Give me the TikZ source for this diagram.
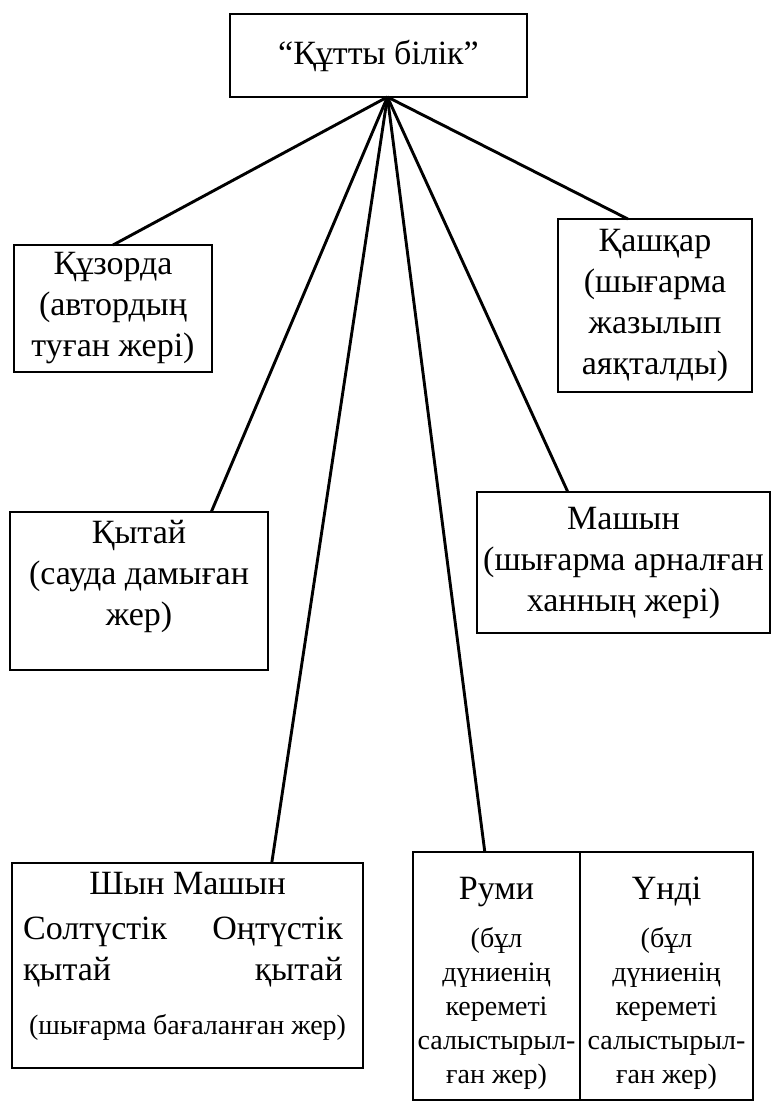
\documentclass[tikz,border=0pt]{standalone}
\usepackage{fontspec}
\setmainfont{Liberation Serif}
\usetikzlibrary{positioning,calc}

\newcommand\bigtxt{\fontsize{34}{40}\selectfont}
\newcommand\midtxt{\fontsize{34}{41}\selectfont}
\newcommand\smalltxt{\fontsize{28}{34}\selectfont}

\begin{document}
\begin{tikzpicture}[
    x=1pt, y=-1pt,
    % ---- styles -------------------------------------------------
    place/.style={draw, line width=2.9pt, inner sep=0pt, outer sep=0pt,
        align=center, font=\midtxt},
    txt/.style={inner sep=0pt, align=center, font=\midtxt},
    note/.style={txt, font=\smalltxt},
    link/.style={line width=2.9pt},
]
\useasboundingbox (0,0) rectangle (773,1102);

% =================== title ====================================
\node[place, minimum width=297, minimum height=83, font=\bigtxt] (book) at (378.5,55.5)
    {“Құтты білік”};
\coordinate (hub) at ($(book.south west)!0.53!(book.south east)$);

% =================== upper row ================================
\node[place, minimum width=198, minimum height=127] (kuzorda) at (113,308.5)
    {Құзорда\\(автордың\\туған жері)};
\node[place, minimum width=194, minimum height=173] (kashkar) at (655,305.5)
    {Қашқар\\(шығарма\\жазылып\\аяқталды)};

% =================== middle row ===============================
\node[place, minimum width=258, minimum height=158] (kytai) at (139,591) {};
\node[txt, below=8pt of kytai.north] (kytai-text) {Қытай\\(сауда дамыған\\жер)};
\node[place, minimum width=293, minimum height=141] (mashyn) at (623.5,562.5)
    {Машын\\(шығарма арналған\\ханның жері)};

% =================== bottom row ===============================
\node[place, minimum width=351, minimum height=205] (shyn) at (187.5,965.5) {};
\node[txt, below=9pt of shyn.north] (shyn-title) {Шын Машын};
\node[txt, align=left, below right=54pt and 11pt of shyn.north west] (north-china)
    {Солтүстік\\қытай};
\node[txt, align=right, below left=54pt and 20pt of shyn.north east] (south-china)
    {Оңтүстік\\қытай};
\node[note, above=27pt of shyn.south] (shyn-note) {(шығарма бағаланған жер)};

\node[place, minimum width=167, minimum height=248] (rumi) at (496.5,976) {};
\node[place, minimum width=173, minimum height=248, right=0pt of rumi] (undi) {};
\node[txt, below=25pt of rumi.north] (rumi-title) {Руми};
\node[note, below=20pt of rumi-title] (rumi-note)
    {(бұл\\дүниенің\\кереметі\\салыстырыл-\\ған жер)};
\node[txt, below=25pt of undi.north] (undi-title) {Үнді};
\node[note, below=20pt of undi-title.south |- rumi-title.south] (undi-note)
    {(бұл\\дүниенің\\кереметі\\салыстырыл-\\ған жер)};

% =================== connectors ===============================
\draw[link] (hub) -- (kuzorda.north);
\draw[link] (hub) -- ($(kashkar.north west)!0.36!(kashkar.north east)$);
\draw[link] (hub) -- ($(kytai.north west)!0.78!(kytai.north east)$);
\draw[link] (hub) -- ($(mashyn.north west)!0.31!(mashyn.north east)$);
\draw[link] (hub) -- ($(shyn.north west)!0.74!(shyn.north east)$);
\draw[link] (hub) -- ($(rumi.north west)!0.43!(rumi.north east)$);

\end{tikzpicture}
\end{document}
